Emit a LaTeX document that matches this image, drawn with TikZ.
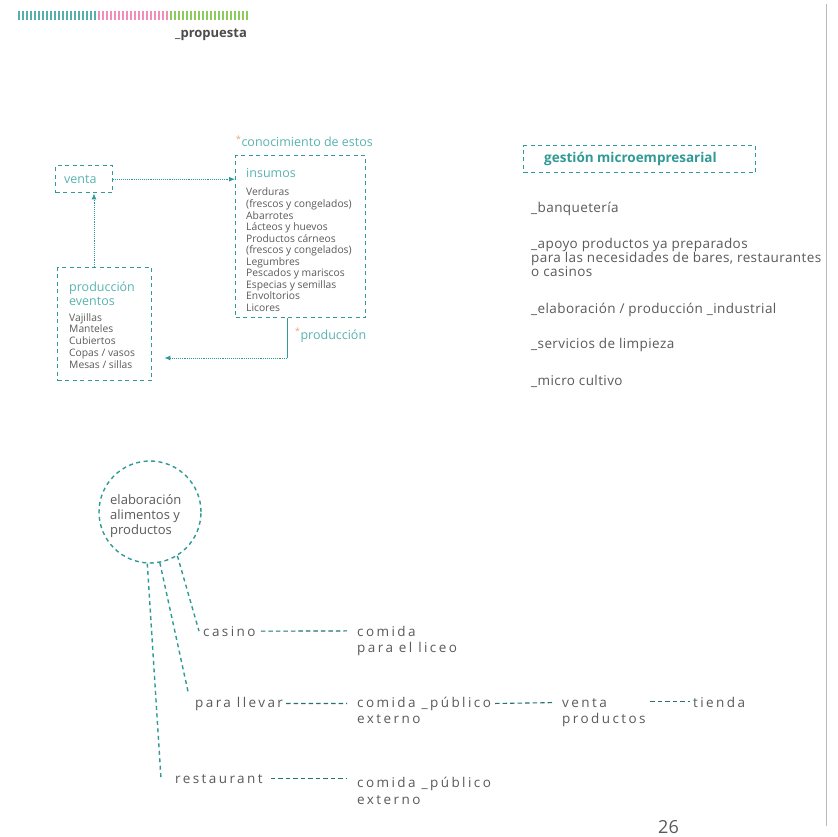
\documentclass[tikz,border=0pt]{standalone}
\usepackage{fontspec,tikz}
\setmainfont{Open Sans}
\newfontfamily\anchofont[LetterSpace=18]{Open Sans}
\newfontfamily\listafont[LetterSpace=3]{Open Sans}
\usetikzlibrary{arrows.meta}
\definecolor{turq}{HTML}{2F9A96}
\definecolor{turqtxt}{HTML}{58B4B0}
\definecolor{gris}{HTML}{5A5A5A}
\definecolor{rosa}{HTML}{F08DB8}
\definecolor{pasto}{HTML}{8DCB5E}
\definecolor{naranja}{HTML}{EBA46A}
\tikzset{
  txt/.style={anchor=base west,inner sep=0pt,text=gris},
  item/.style={txt,font=\fontsize{10.3}{12}\selectfont},
  etiq/.style={txt,text=turqtxt,font=\fontsize{12.5}{15}\selectfont},
  lista/.style={txt,font=\listafont\fontsize{13.5}{15}\selectfont},
  ancho/.style={txt,font=\anchofont\fontsize{13.5}{16}\selectfont},
  caja/.style={draw=turq,line width=1.4pt,dash pattern=on 4pt off 3.5pt,inner sep=0pt,anchor=north west},
  flecha/.style={draw=turq,line width=0.9pt,densely dotted,-{Latex[length=6pt,width=5pt]}},
  guion/.style={draw=turq!75!black,line width=1.1pt,dash pattern=on 4.5pt off 3pt},
  rama/.style={draw=turq,line width=1.4pt,dash pattern=on 4pt off 3.5pt},
}
\newcommand{\notamark}{\textcolor{naranja}{\textsuperscript{*}}}
\begin{document}
\begin{tikzpicture}[x=1pt,y=-1pt]
\path[use as bounding box] (0,0) rectangle (837,837);
\fill[white] (0,0) rectangle (837,837);
\foreach \i in {0,...,19} \draw[turq!80,line width=2.1pt] (19+4*\i,11) -- (19+4*\i,20);
\foreach \i in {0,...,17} \draw[rosa,line width=2.1pt] (99+4*\i,11) -- (99+4*\i,20);
\foreach \i in {0,...,19} \draw[pasto,line width=2.1pt] (171+4*\i,11) -- (171+4*\i,20);
\node[txt,text=gris!85!black,font=\fontsize{13}{15}\selectfont\bfseries] (titulo) at (175,38) {\_propuesta};
\node[caja,minimum width=57pt,minimum height=27pt] (venta) at (55,165) {};
\node[etiq] (ventatxt) at (64,183) {venta};
\node[etiq] (conoc) at (236,147) {\notamark conocimiento de estos};
\node[caja,minimum width=130pt,minimum height=162pt] (insumos) at (235,155) {};
\node[etiq] (insumostxt) at (246,178) {insumos};
\foreach \t [count=\i from 0] in {Verduras,{(frescos y congelados)},Abarrotes,Lácteos y huevos,Productos cárneos,{(frescos y congelados)},Legumbres,Pescados y mariscos,Especias y semillas,Envoltorios,Licores}
  \node[item] (ins\i) at (246,196+11.5*\i) {\t};
\node[caja,minimum width=94pt,minimum height=113pt] (prod) at (57,267) {};
\node[etiq] (prodtxt1) at (69,291) {producción};
\node[etiq] (prodtxt2) at (69,305) {eventos};
\foreach \t [count=\i from 0] in {Vajillas,Manteles,Cubiertos,Copas / vasos,Mesas / sillas}
  \node[item] (prod\i) at (69,321+11.75*\i) {\t};
\node[etiq] (prodnota) at (295,339) {\notamark producción};
\coordinate (subida) at (94,230);
\coordinate (codo) at (287,358);
\draw[flecha] (venta.east) -- (venta.east -| insumos.west);
\draw[flecha] (prod.north -| subida) -- (venta.south -| subida);
\draw[turq,line width=0.9pt] (insumos.south -| codo) -- (codo);
\draw[flecha] (codo) -- ([xshift=12pt]prod.east |- codo);
\node[caja,minimum width=232pt,minimum height=27pt] (gestion) at (523,145) {};
\node[txt,text=turq,font=\fontsize{13.5}{16}\selectfont\bfseries] (gestiontxt) at (544,163) {gestión microempresarial};
\node[lista] (banq) at (531,212) {\_banquetería};
\node[lista] (apoyo1) at (531,248) {\_apoyo productos ya preparados};
\node[lista] (apoyo2) at (531,262) {para las necesidades de bares, restaurantes};
\node[lista] (apoyo3) at (531,276) {o casinos};
\node[lista] (elabind) at (531,313) {\_elaboración / producción \_industrial};
\node[lista] (limp) at (531,348) {\_servicios de limpieza};
\node[lista] (cultivo) at (531,385) {\_micro cultivo};
\draw[gray!55,line width=1pt] (826,4) -- (826,826);
\node[circle,draw=turq,line width=1.4pt,dash pattern=on 4pt off 3.5pt,minimum size=102pt,inner sep=0pt] (elab) at (150,512) {};
\node[txt,font=\fontsize{13}{15}\selectfont] (elab1) at (110,504) {elaboración};
\node[txt,font=\fontsize{13}{15}\selectfont] (elab2) at (110,519) {alimentos y};
\node[txt,font=\fontsize{13}{15}\selectfont] (elab3) at (110,534) {productos};
\node[ancho] (casino) at (203,636) {casino};
\node[ancho] (liceo1) at (357,636) {comida};
\node[ancho] (liceo2) at (357,652) {para el liceo};
\node[ancho] (llevar) at (195,707) {para llevar};
\node[ancho] (ext1) at (357,707) {comida \_público};
\node[ancho] (ext1b) at (357,723) {externo};
\node[ancho] (vprod1) at (562,707) {venta};
\node[ancho] (vprod2) at (562,723) {productos};
\node[ancho] (tienda) at (693,707) {tienda};
\node[ancho] (rest) at (175,783) {restaurant};
\node[ancho] (ext2) at (357,787) {comida \_público};
\node[ancho] (ext2b) at (357,804) {externo};
\coordinate (tramo) at (650,0);
\draw[rama] (elab.-93) -- ([xshift=-14pt]rest.west);
\draw[rama] (elab.-79) -- ([xshift=-7pt,yshift=12pt]llevar.west);
\draw[rama] (elab.-58) -- ([xshift=-4pt]casino.west);
\draw[guion] ([xshift=5pt]casino.east) -- ([xshift=-10pt]liceo1.west);
\draw[guion] ([xshift=3pt]llevar.east) -- ([xshift=-10pt]ext1.west);
\draw[guion] ([xshift=4pt]ext1.east) -- ([xshift=-8pt]vprod1.west);
\draw[guion] (tramo |- tienda.west) -- ([xshift=-3pt]tienda.west);
\draw[guion] ([xshift=8pt]rest.east) -- ([xshift=-10pt]ext2.west |- rest.east);
\node[txt,font=\fontsize{18}{21}\selectfont] (pagina) at (658,833) {26};
\end{tikzpicture}
\end{document}
